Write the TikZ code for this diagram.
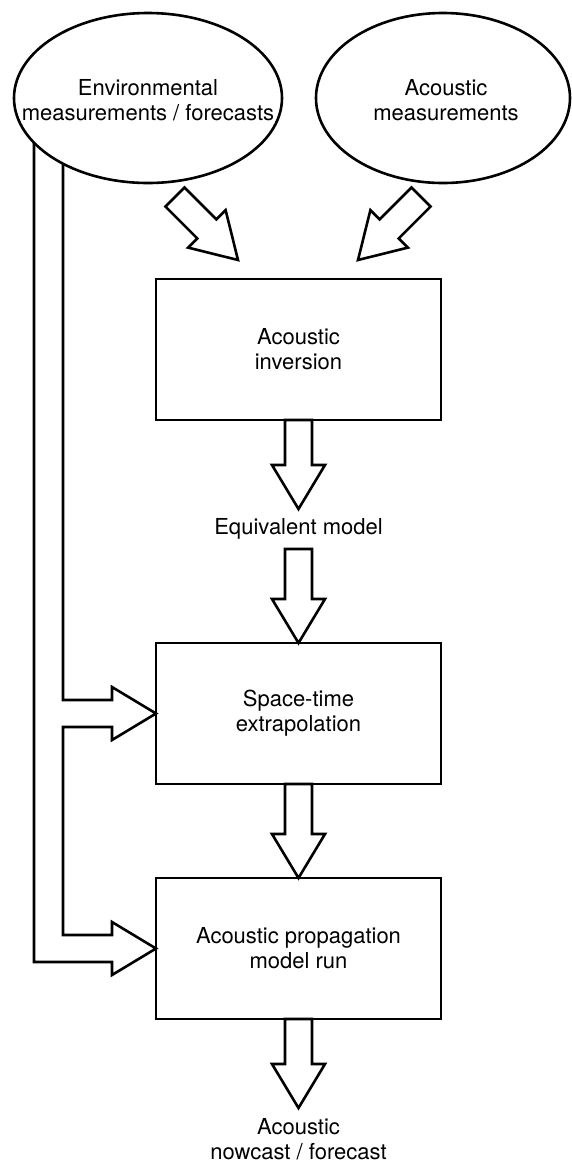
\documentclass[tikz,border=0pt]{standalone}
\usepackage{fontspec}
\setmainfont{TeX Gyre Heros}
\usetikzlibrary{calc,shapes.geometric}
\pgfdeclarelayer{background}
\pgfsetlayers{background,main}

\tikzset{
  txt/.style={align=center,font=\fontsize{22}{25}\selectfont},
  source/.style={ellipse,draw,fill=white,line width=2.6pt,inner sep=0pt,outer sep=0pt,minimum height=170pt},
  stage/.style={txt,rectangle,draw,line width=2.6pt,minimum width=285pt,minimum height=141pt,inner sep=0pt,outer sep=0pt},
  result/.style={txt,inner sep=0pt,outer sep=0pt,minimum height=40pt},
  fat/.style={draw,fill=white,line width=2.6pt,line join=miter},
  pipe/.style={line width=2.6pt,line join=miter}
}
% hollow block arrow from #1 to #2
\newcommand{\fatarrow}[2]{%
  \coordinate (fa-b) at ($(#2)!44pt!(#1)$);
  \draw[fat] ($(#1)!13.5pt!90:(#2)$) -- ($(fa-b)!13.5pt!90:(#2)$) -- ($(fa-b)!26.5pt!90:(#2)$)
    -- (#2) -- ($(fa-b)!26.5pt!-90:(#2)$) -- ($(fa-b)!13.5pt!-90:(#2)$) -- ($(#1)!13.5pt!-90:(#2)$) -- cycle;}

\begin{document}
\begin{tikzpicture}[x=1pt,y=-1pt]
\useasboundingbox (0,0) rectangle (571,1163);
%%%% inputs
\node[source,minimum width=268pt] (env) at (148,98) {};
\node[txt] (envtext) at (148,100) {Environmental\\measurements / forecasts};
\node[source,minimum width=254pt] (aco) at (443,98) {};
\node[txt] (acotext) at (446,100) {Acoustic\\measurements};
%%%% chain
\node[stage] (inv) at (298.5,349.5) {Acoustic\\inversion};
\node[result] (eq) at (298.5,529) {Equivalent model};
\node[stage] (ext) at (298.5,713.5) {Space-time\\extrapolation};
\node[stage] (prop) at (298.5,948.5) {Acoustic propagation\\model run};
\node[result,anchor=north,inner ysep=10pt] (out) at (298.5,1108) {Acoustic\\nowcast / forecast};
%
\coordinate (envtail) at (175,197);
\coordinate (envtip) at (238,260);
\coordinate (acotail) at (421,197);
\coordinate (acotip) at (358,260);
\fatarrow{envtail}{envtip}
\fatarrow{acotail}{acotip}
\fatarrow{inv.south}{eq.north}
\fatarrow{eq.south}{ext.north}
\fatarrow{ext.south}{prop.north}
\fatarrow{prop.south}{out.north}
%%%% environmental data fed to later stages
\coordinate (pipein) at (63,0);
\coordinate (pipeout) at (34,0);
\begin{pgfonlayer}{background}
\draw[pipe] (pipein |- env.center) |- ($(ext.west)+(-44,-13.5)$) -- ++(0,-13) -- (ext.west)
  -- ($(ext.west)+(-44,26.5)$) -- ++(0,-13) -| ($(pipein |- prop.west)+(0,-13.5)$)
  -- ($(prop.west)+(-44,-13.5)$) -- ++(0,-13) -- (prop.west)
  -- ($(prop.west)+(-44,26.5)$) -- ++(0,-13) -| (pipeout |- env.center);
\end{pgfonlayer}
\end{tikzpicture}
\end{document}
